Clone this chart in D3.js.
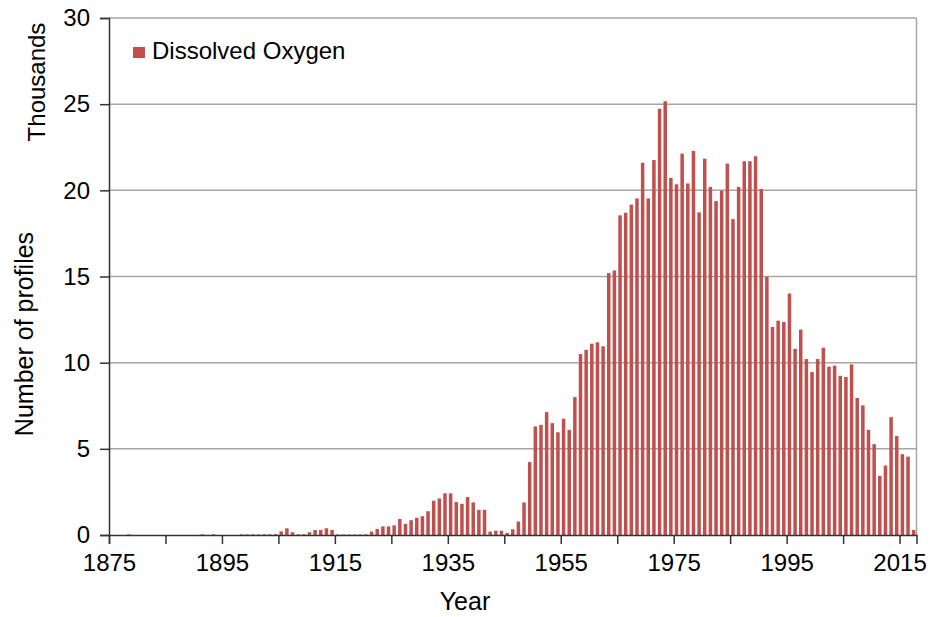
<!DOCTYPE html>
<html>
<head>
<meta charset="utf-8">
<script src="https://cdn.jsdelivr.net/npm/d3@7"></script>
<style>
  body { margin: 0; background: #fff; }
  text { font-family: "Liberation Sans", Arial, sans-serif; fill: #000; }
</style>
</head>
<body>
<div class="chart"></div>
<script>
// years 1875..2017, one value per year (thousands of profiles)
var firstYear = 1875, lastYear = 2017;
var years = d3.range(firstYear, lastYear + 1);

var profiles = [
  // 1875-1884
  0, 0, 0, 0.04, 0, 0, 0, 0, 0, 0,
  // 1885-1894
  0, 0, 0, 0, 0, 0, 0.04, 0, 0.04, 0,
  // 1895-1904
  0, 0, 0, 0.04, 0.03, 0.04, 0.03, 0.04, 0.04, 0.05,
  // 1905-1914
  0.21, 0.39, 0.16, 0.04, 0.04, 0.16, 0.29, 0.29, 0.39, 0.29,
  // 1915-1924
  0.03, 0.03, 0.03, 0.03, 0.03, 0.04, 0.2, 0.35, 0.5, 0.5,
  // 1925-1934
  0.56, 0.93, 0.64, 0.86, 1.0, 1.09, 1.38, 1.99, 2.12, 2.42,
  // 1935-1944
  2.42, 1.91, 1.81, 2.2, 1.89, 1.46, 1.46, 0.2, 0.25, 0.25,
  // 1945-1954
  0.12, 0.33, 0.78, 1.89, 4.23, 6.3, 6.39, 7.13, 6.49, 5.96,
  // 1955-1964
  6.75, 6.1, 8.0, 10.5, 10.74, 11.1, 11.18, 10.95, 15.2, 15.35,
  // 1965-1974
  18.55, 18.7, 19.17, 19.53, 21.6, 19.53, 21.76, 24.73, 25.17, 20.72,
  // 1975-1984
  20.35, 22.13, 20.4, 22.29, 18.72, 21.84, 20.2, 19.38, 19.98, 21.55,
  // 1985-1994
  18.33, 20.2, 21.69, 21.69, 21.98, 20.08, 14.98, 12.07, 12.44, 12.36,
  // 1995-2004
  14.01, 10.8, 11.92, 10.21, 9.46, 10.21, 10.87, 9.77, 9.83, 9.24,
  // 2005-2014
  9.17, 9.9, 7.95, 7.52, 6.1, 5.27, 3.43, 4.03, 6.84, 5.74,
  // 2015-2017
  4.69, 4.55, 0.29
];

var yTicks = [0, 5, 10, 15, 20, 25, 30];
var xTicks = d3.range(1875, 2016, 10);
var xLabels = d3.range(1875, 2016, 20);
var seriesName = "Dissolved Oxygen";

var data = years.map(function(y, i) { return {year: y, value: profiles[i]}; });

var width = 935, height = 617;
var plotLeft = 109, plotRight = 916.5, plotTop = 18, plotBottom = 535;

var svg = d3.select(".chart")
  .append("svg")
    .attr("width", width)
    .attr("height", height);

// scales
var x = d3.scaleBand()
    .domain(years)
    .range([plotLeft, plotRight])
    .paddingInner(0.38)
    .paddingOuter(0.19);

var xt = d3.scaleLinear()
    .domain([firstYear, lastYear + 1])
    .range([plotLeft, plotRight]);

var y = d3.scaleLinear()
    .domain([0, 30])
    .range([plotBottom, plotTop]);

// gridlines
svg.append("g")
  .selectAll("line")
  .data(yTicks.slice(1))
  .enter().append("line")
    .attr("x1", plotLeft)
    .attr("x2", plotRight)
    .attr("y1", function(d) { return y(d); })
    .attr("y2", function(d) { return y(d); })
    .attr("stroke", "#a6a6a6")
    .attr("stroke-width", 1.5);

// right border of plot area
svg.append("line")
  .attr("x1", plotRight).attr("x2", plotRight)
  .attr("y1", plotTop).attr("y2", plotBottom)
  .attr("stroke", "#a6a6a6")
  .attr("stroke-width", 1.5);

// bars
svg.append("g")
  .attr("fill", "#c0504d")
  .selectAll("rect")
  .data(data)
  .enter().append("rect")
    .attr("x", function(d) { return x(d.year); })
    .attr("y", function(d) { return y(d.value); })
    .attr("width", x.bandwidth())
    .attr("height", function(d) { return y(0) - y(d.value); });

// y axis
var yAxis = svg.append("g")
  .attr("transform", "translate(" + plotLeft + ",0)")
  .call(d3.axisLeft(y).tickValues(yTicks).tickSize(9).tickPadding(10));
yAxis.selectAll("text").style("font-size", "24px");

// x axis
var xAxis = svg.append("g")
  .attr("transform", "translate(0," + plotBottom + ")")
  .call(d3.axisBottom(xt)
    .tickValues(xTicks)
    .tickSize(9)
    .tickPadding(10)
    .tickFormat(function(d) { return xLabels.indexOf(d) >= 0 ? d : ""; }));
xAxis.selectAll("text").style("font-size", "24px");

[yAxis, xAxis].forEach(function(a) {
  a.select(".domain").attr("stroke", "#333").attr("stroke-width", 1.5);
  a.selectAll(".tick line").attr("stroke", "#333").attr("stroke-width", 1.5);
});

// axis labels
svg.append("text")
  .attr("transform", "translate(33,334) rotate(-90)")
  .attr("text-anchor", "middle")
  .style("font-size", "25px")
  .text("Number of profiles");

svg.append("text")
  .attr("transform", "translate(45,82) rotate(-90)")
  .attr("text-anchor", "middle")
  .style("font-size", "24px")
  .text("Thousands");

svg.append("text")
  .attr("x", 465)
  .attr("y", 610)
  .attr("text-anchor", "middle")
  .style("font-size", "25px")
  .text("Year");

// legend
svg.append("rect")
  .attr("x", 133).attr("y", 47)
  .attr("width", 12).attr("height", 11)
  .attr("fill", "#c0504d");
svg.append("text")
  .attr("x", 152).attr("y", 59)
  .style("font-size", "24px")
  .text(seriesName);
</script>
</body>
</html>
